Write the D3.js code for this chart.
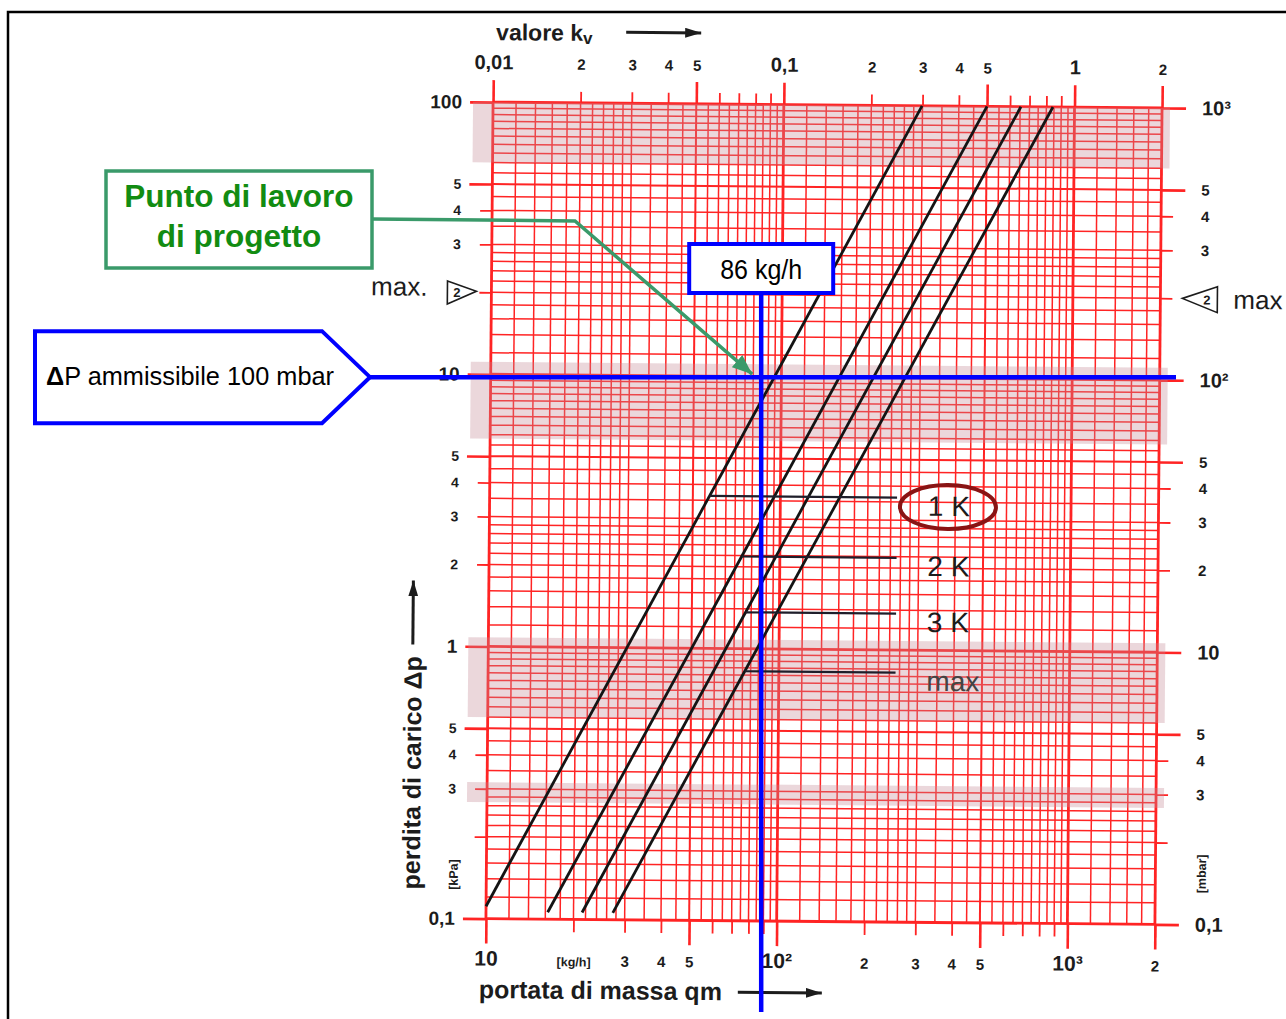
<!DOCTYPE html>
<html lang="it">
<head>
<meta charset="utf-8">
<title>Perdita di carico – portata di massa</title>
<script src="https://cdn.jsdelivr.net/npm/d3@7/dist/d3.min.js"></script>
<style>
  html, body { margin: 0; padding: 0; background: #fff; }
  svg { display: block; }
  text { font-family: "Liberation Sans", Arial, sans-serif; }
</style>
</head>
<body>
<svg id="chart" width="1286" height="1019"></svg>
<script>
// ---------- data ----------
// characteristic lines: straight in log-log, given by their two end points
const curveLabels   = ["1 K", "2 K", "3 K", "max"];
const curveFlowLow  = [10, 16.3, 21.4, 27.3];        // kg/h
const curveDpLow    = [0.111, 0.106, 0.106, 0.106];  // kPa
const curveFlowHigh = [299, 500, 654, 843];          // kg/h
const curveDpHigh   = [100, 100, 100, 100];          // kPa
const leaderDp      = [3.63, 2.18, 1.36, 0.826];     // kPa, height of each name leader
const leaderEndFlow = 252;                           // kg/h
const labelFlow     = 322;                           // kg/h

// grid subdivision inside each decade
const gridMantissas = [1, 1.2, 1.4, 1.6, 1.8, 2, 2.2, 2.4, 2.6, 2.8, 3, 3.5, 4, 4.5, 5, 5.5, 6, 6.5, 7, 7.5, 8, 8.5, 9, 9.5];
const flowDecades = [10, 100, 1000];
const dpDecades   = [0.1, 1, 10];
const longTickMantissas  = [1, 5];
const shortTickMantissas = [2, 3, 4, 6, 7, 8, 9];

// tick labels
const flowTickValues = [10, 20, 30, 40, 50, 100, 200, 300, 400, 500, 1000, 2000];
const flowTickLabels = ["10", "[kg/h]", "3", "4", "5", "10²", "2", "3", "4", "5", "10³", "2"];
const kvTickValues   = [0.01, 0.02, 0.03, 0.04, 0.05, 0.1, 0.2, 0.3, 0.4, 0.5, 1, 2];
const kvTickLabels   = ["0,01", "2", "3", "4", "5", "0,1", "2", "3", "4", "5", "1", "2"];
const dpTickValues   = [100, 50, 40, 30, 10, 5, 4, 3, 2, 1, 0.5, 0.4, 0.3, 0.1];
const dpLabelsKPa    = ["100", "5", "4", "3", "10", "5", "4", "3", "2", "1", "5", "4", "3", "0,1"];
const dpLabelsMbar   = ["10³", "5", "4", "3", "10²", "5", "4", "3", "2", "10", "5", "4", "3", "0,1"];

// working point
const designFlow = 86;   // kg/h
const allowedDp  = 10;   // kPa (100 mbar)
const maxMarkDp  = 20;   // kPa

// ---------- scales ----------
const FLOW_MIN = 10, FLOW_MAX = 2000, DP_MIN = 0.1, DP_MAX = 100;
const x  = d3.scaleLog().domain([FLOW_MIN, FLOW_MAX]).range([489.5, 1158.5]);
const kv = d3.scaleLog().domain([0.01, 2]).range([489.5, 1158.5]);
const y  = d3.scaleLog().domain([DP_MIN, DP_MAX]).range([921.5, 105]);

const X0 = x(FLOW_MIN), X1 = x(FLOW_MAX), Y0 = y(DP_MIN), Y1 = y(DP_MAX);
const RED = "#ff2424";
const INK = "#1c1c1c";

const svg = d3.select("#chart");
const defs = svg.append("defs");
function arrowMarker(id, color, w, h) {
  defs.append("marker").attr("id", id)
    .attr("viewBox", `0 0 ${w} ${h}`).attr("refX", w).attr("refY", h / 2)
    .attr("markerUnits", "userSpaceOnUse").attr("markerWidth", w).attr("markerHeight", h)
    .attr("orient", "auto")
    .append("path").attr("d", `M0,0 L${w},${h / 2} L0,${h} Z`).attr("fill", color);
}
arrowMarker("arrowBlack", INK, 16, 10);
arrowMarker("arrowGreen", "#3a9a6a", 20, 16);

// the printed diagram sits slightly skewed on the sheet
const chart = svg.append("g").attr("transform", "rotate(0.5,822,512)");

// ---------- grid ----------
const flowGrid = flowDecades.flatMap(d => gridMantissas.map(m => +(d * m).toPrecision(4)))
  .filter(v => v <= FLOW_MAX);
const dpGrid = dpDecades.flatMap(d => gridMantissas.map(m => +(d * m).toPrecision(4)))
  .concat([DP_MAX]);
const isDecade = v => Math.abs(Math.log10(v) - Math.round(Math.log10(v))) < 1e-6;
const isFive = v => Math.abs(Math.log10(v / 5) - Math.round(Math.log10(v / 5))) < 1e-6;
const gridWidth = v => isDecade(v) ? 2.8 : (isFive(v) ? 2 : 1.5);

const grid = chart.append("g").attr("stroke", RED);
grid.selectAll("line.v").data(flowGrid).join("line").attr("class", "v")
  .attr("x1", d => x(d)).attr("x2", d => x(d)).attr("y1", Y0).attr("y2", Y1)
  .attr("stroke-width", d => (d === FLOW_MAX ? 2.8 : gridWidth(d)));
grid.selectAll("line.h").data(dpGrid).join("line").attr("class", "h")
  .attr("y1", d => y(d)).attr("y2", d => y(d)).attr("x1", X0).attr("x2", X1)
  .attr("stroke-width", d => gridWidth(d));

// ---------- ticks (red, drawn with axes) ----------
function multiples(decades, mants, max) {
  return decades.flatMap(d => mants.map(m => +(d * m).toPrecision(4))).filter(v => v <= max);
}
function redTicks(axis, transform, width) {
  const g = chart.append("g").attr("transform", transform).call(axis);
  g.select(".domain").remove();
  g.selectAll(".tick line").attr("stroke", RED).attr("stroke-width", width);
  return g;
}
const dpLong = multiples(dpDecades, longTickMantissas, DP_MAX).concat([DP_MAX]);
const dpShort = multiples(dpDecades, [2, 3, 4], DP_MAX);
const flowLong = multiples(flowDecades, longTickMantissas, FLOW_MAX).concat([FLOW_MAX]);
const flowShort = multiples(flowDecades, shortTickMantissas, FLOW_MAX);
const kvLong = multiples([0.01, 0.1, 1], longTickMantissas, 2).concat([2]);
const kvShort = multiples([0.01, 0.1], shortTickMantissas, 2);

redTicks(d3.axisLeft(y).tickValues(dpLong).tickSize(23).tickFormat(""), `translate(${X0},0)`, 2.6);
redTicks(d3.axisLeft(y).tickValues(dpShort).tickSize(12).tickFormat(""), `translate(${X0},0)`, 1.8);
redTicks(d3.axisRight(y).tickValues(dpLong).tickSize(24).tickFormat(""), `translate(${X1},0)`, 2.6);
redTicks(d3.axisRight(y).tickValues(dpShort).tickSize(12).tickFormat(""), `translate(${X1},0)`, 1.8);
redTicks(d3.axisBottom(x).tickValues(flowLong).tickSize(25).tickFormat(""), `translate(0,${Y0})`, 2.6);
redTicks(d3.axisBottom(x).tickValues(flowShort).tickSize(13).tickFormat(""), `translate(0,${Y0})`, 1.8);
redTicks(d3.axisTop(kv).tickValues(kvLong).tickSize(22).tickFormat(""), `translate(0,${Y1})`, 2.6);
redTicks(d3.axisTop(kv).tickValues(kvShort).tickSize(11).tickFormat(""), `translate(0,${Y1})`, 1.8);

// ---------- light scanner bands across the grid ----------
const bandHigh = [100, 11.1, 1.08, 0.317];
const bandLow  = [60, 5.8, 0.55, 0.268];
chart.append("g").selectAll("rect").data(bandHigh).join("rect")
  .attr("x", X0 - 20).attr("width", X1 - X0 + 28)
  .attr("y", d => y(d)).attr("height", (d, i) => y(bandLow[i]) - y(d))
  .attr("fill", "#c48a96").attr("opacity", 0.34);

// ---------- characteristic lines ----------
const curves = curveLabels.map((name, i) => ({
  name,
  pts: [[curveFlowLow[i], curveDpLow[i]], [curveFlowHigh[i], curveDpHigh[i]]]
}));
const line = d3.line().x(d => x(d[0])).y(d => y(d[1]));
chart.append("g").selectAll("path").data(curves).join("path")
  .attr("d", d => line(d.pts)).attr("fill", "none")
  .attr("stroke", "#141414").attr("stroke-width", 2.8);

// flow on a curve at a given pressure drop (log-log interpolation)
function flowAt(c, dp) {
  const [[q0, p0], [q1, p1]] = c.pts;
  const t = (Math.log(dp) - Math.log(p0)) / (Math.log(p1) - Math.log(p0));
  return Math.exp(Math.log(q0) + t * (Math.log(q1) - Math.log(q0)));
}

// name leaders and names
chart.append("g").selectAll("line").data(curves).join("line")
  .attr("x1", (c, i) => x(flowAt(c, leaderDp[i]))).attr("x2", x(leaderEndFlow))
  .attr("y1", (c, i) => y(leaderDp[i])).attr("y2", (c, i) => y(leaderDp[i]))
  .attr("stroke", "#1e1e2a").attr("stroke-width", 2.2);
chart.append("g").selectAll("text").data(curves).join("text")
  .attr("x", x(labelFlow)).attr("y", (c, i) => y(leaderDp[i]) + 18)
  .attr("font-size", 28).attr("fill", (c, i) => i === 3 ? "#444" : INK)
  .text(c => c.name);

// highlighted curve name
chart.append("ellipse")
  .attr("cx", x(labelFlow) + 20).attr("cy", y(leaderDp[0]) + 9)
  .attr("rx", 48).attr("ry", 22)
  .attr("fill", "none").attr("stroke", "#8a1414").attr("stroke-width", 4);

// ---------- tick labels ----------
function labelAxis(axis, transform) {
  const g = chart.append("g").attr("transform", transform).call(axis);
  g.select(".domain").remove();
  g.selectAll(".tick line").remove();
  g.attr("font-family", null).attr("font-size", null);
  g.selectAll("text").attr("fill", INK).attr("font-weight", "bold");
  return g;
}
const bigLabel = s => s.length > 1 && s !== "[kg/h]" || s === "1";

const leftL = labelAxis(d3.axisLeft(y).tickValues(dpTickValues).tickSize(0).tickPadding(31)
  .tickFormat((d, i) => dpLabelsKPa[i]), `translate(${X0},0)`);
leftL.selectAll("text").attr("font-size", d => bigLabel(dpLabelsKPa[dpTickValues.indexOf(d)]) ? 19 : 14);

const rightL = labelAxis(d3.axisRight(y).tickValues(dpTickValues).tickSize(0).tickPadding(40)
  .tickFormat((d, i) => dpLabelsMbar[i]), `translate(${X1},0)`);
rightL.selectAll("text").attr("font-size", d => bigLabel(dpLabelsMbar[dpTickValues.indexOf(d)]) ? 20 : 15);

const bottomL = labelAxis(d3.axisBottom(x).tickValues(flowTickValues).tickSize(0)
  .tickFormat((d, i) => flowTickLabels[i]), `translate(0,${Y0})`);
bottomL.selectAll("text").attr("dy", null).attr("y", 47)
  .attr("font-size", d => {
    const s = flowTickLabels[flowTickValues.indexOf(d)];
    return s === "[kg/h]" ? 12.5 : (bigLabel(s) ? 21 : 15);
  });

const topL = labelAxis(d3.axisTop(kv).tickValues(kvTickValues).tickSize(0)
  .tickFormat((d, i) => kvTickLabels[i]), `translate(0,${Y1})`);
topL.selectAll("text").attr("dy", null).attr("y", -33)
  .attr("font-size", d => bigLabel(kvTickLabels[kvTickValues.indexOf(d)]) ? 20 : 15);

// ---------- axis titles ----------
const titles = chart.append("g").attr("fill", INK).attr("font-weight", "bold");
const kvTitle = titles.append("text").attr("x", 492).attr("y", 43).attr("font-size", 23);
kvTitle.append("tspan").text("valore k");
kvTitle.append("tspan").attr("font-size", 17).attr("dy", 3).text("v");
titles.append("line").attr("x1", 622).attr("x2", 697).attr("y1", 34).attr("y2", 34)
  .attr("stroke", INK).attr("stroke-width", 3).attr("marker-end", "url(#arrowBlack)");

titles.append("text").attr("x", 483).attr("y", 1001).attr("font-size", 25).text("portata di massa qm");
titles.append("line").attr("x1", 742).attr("x2", 826).attr("y1", 993).attr("y2", 993)
  .attr("stroke", INK).attr("stroke-width", 3).attr("marker-end", "url(#arrowBlack)");

titles.append("text").attr("transform", "translate(423,893) rotate(-90)")
  .attr("font-size", 25).text("perdita di carico Δp");
titles.append("line").attr("x1", 414).attr("x2", 414).attr("y1", 648).attr("y2", 584)
  .attr("stroke", INK).attr("stroke-width", 3).attr("marker-end", "url(#arrowBlack)");

titles.append("text").attr("transform", "translate(461,893) rotate(-90)")
  .attr("font-size", 12.5).text("[kPa]");
titles.append("text").attr("transform", "translate(1209,890) rotate(-90)")
  .attr("font-size", 12.5).text("[mbar]");

// max. marks at 20 kPa
const yMax = y(maxMarkDp);
const marks = chart.append("g").attr("fill", "none").attr("stroke", INK).attr("stroke-width", 1.6);
marks.append("path").attr("d", `M${X0 - 44},${yMax - 11} L${X0 - 15},${yMax - 1} L${X0 - 44},${yMax + 12} Z`);
marks.append("path").attr("d", `M${X1 + 57},${yMax - 12} L${X1 + 22},${yMax} L${X1 + 57},${yMax + 14} Z`);
const markText = chart.append("g").attr("fill", INK);
markText.append("text").attr("x", X0 - 38).attr("y", yMax + 5).attr("font-size", 13).attr("font-weight", "bold").text("2");
markText.append("text").attr("x", X1 + 43).attr("y", yMax + 6).attr("font-size", 13).attr("font-weight", "bold").text("2");
markText.append("text").attr("x", X0 - 64).attr("y", yMax + 4).attr("text-anchor", "end").attr("font-size", 26).text("max.");
markText.append("text").attr("x", X1 + 73).attr("y", yMax + 10).attr("font-size", 26).text("max");

// ---------- working point annotations ----------
const ann = svg.append("g");
const BLUE = "#0000ff", GREEN_LINE = "#3a9a6a", GREEN_TEXT = "#128c12";
const px = x(designFlow), py = y(allowedDp);

ann.append("line").attr("x1", px).attr("x2", px).attr("y1", 293).attr("y2", 1012)
  .attr("stroke", BLUE).attr("stroke-width", 4.5);
ann.append("line").attr("x1", 370).attr("x2", 1176).attr("y1", py).attr("y2", py)
  .attr("stroke", BLUE).attr("stroke-width", 4.5);

ann.append("rect").attr("x", px - 72).attr("y", 244).attr("width", 144).attr("height", 49)
  .attr("fill", "#fff").attr("stroke", BLUE).attr("stroke-width", 4);
ann.append("text").attr("x", px).attr("y", 279).attr("text-anchor", "middle")
  .attr("font-size", 28).attr("fill", "#000")
  .attr("textLength", 82).attr("lengthAdjust", "spacingAndGlyphs")
  .text(`${designFlow} kg/h`);

ann.append("path")
  .attr("d", `M35,${py - 46} H322 L370,${py} L322,${py + 46} H35 Z`)
  .attr("fill", "#fff").attr("stroke", BLUE).attr("stroke-width", 4);
const dpText = ann.append("text").attr("x", 46).attr("y", py + 8).attr("font-size", 26).attr("fill", "#000")
  .attr("textLength", 288).attr("lengthAdjust", "spacingAndGlyphs");
dpText.append("tspan").attr("font-weight", "bold").text("Δ");
dpText.append("tspan").text(`P ammissibile ${allowedDp * 10} mbar`);

ann.append("polyline")
  .attr("points", `372,219 575,221 ${px - 9},${py - 3}`)
  .attr("fill", "none").attr("stroke", GREEN_LINE).attr("stroke-width", 3.5)
  .attr("marker-end", "url(#arrowGreen)");
ann.append("rect").attr("x", 106).attr("y", 171).attr("width", 266).attr("height", 97)
  .attr("fill", "#fff").attr("stroke", GREEN_LINE).attr("stroke-width", 3.5);
const greenText = ann.append("text").attr("text-anchor", "middle").attr("font-size", 31.5)
  .attr("font-weight", "bold").attr("fill", GREEN_TEXT);
greenText.append("tspan").attr("x", 239).attr("y", 207).text("Punto di lavoro");
greenText.append("tspan").attr("x", 239).attr("y", 247).text("di progetto");

// sheet frame
svg.append("path").attr("d", "M8,1019 V12 H1286")
  .attr("fill", "none").attr("stroke", "#000").attr("stroke-width", 2.5);
</script>
</body>
</html>
